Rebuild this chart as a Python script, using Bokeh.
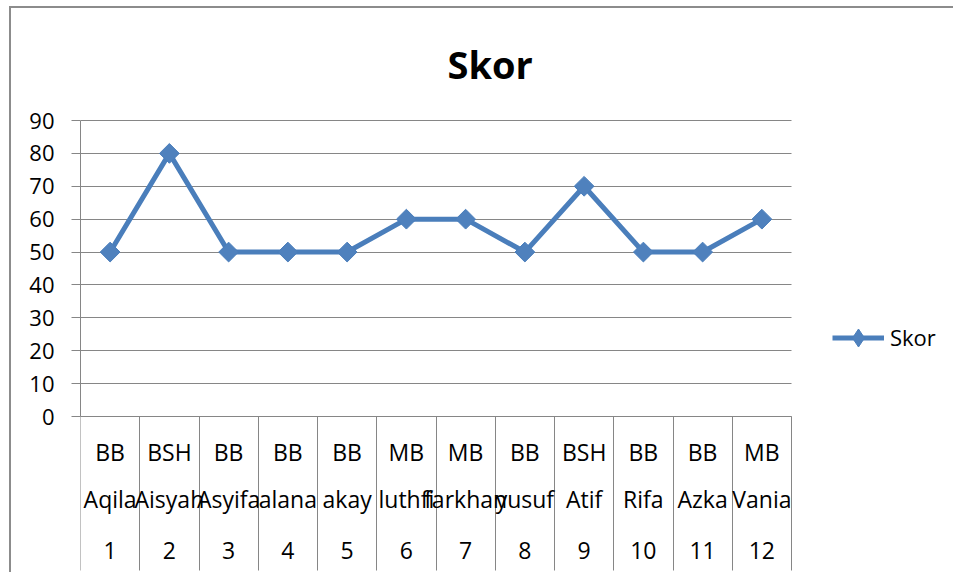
from bokeh.plotting import figure
from bokeh.models import Range1d, LinearAxis, FixedTicker, Legend, LegendItem
from bokeh.embed import file_html
from bokeh.resources import INLINE

# ---- data ----
nums = [1, 2, 3, 4, 5, 6, 7, 8, 9, 10, 11, 12]
names = ["Aqila", "Aisyah", "Asyifa", "alana", "akay", "luthfi",
         "farkhan", "yusuf", "Atif", "Rifa", "Azka", "Vania"]
grades = ["BB", "BSH", "BB", "BB", "BB", "MB", "MB", "BB", "BSH", "BB", "BB", "MB"]
scores = [50, 80, 50, 50, 50, 60, 60, 50, 70, 50, 50, 60]
y_ticks = [0, 10, 20, 30, 40, 50, 60, 70, 80, 90]
series_name = "Skor"

# ---- geometry (pixels, relative to the page) ----
FONT = "Open Sans"
OX, OY = 11, 8                 # content origin (margin + border)
W, H = 944, 566
plot_left, plot_right = 80, 791     # plot area, page px
y90, y0 = 120, 416                  # page px of 90 and 0
frame_top_px = 115
sep_end_px = 570

px_per_y = (y0 - y90) / 90.0
px_per_x = (plot_right - plot_left) / len(nums)
frame_right_px = OX + W
frame_bottom_px = OY + H

x_start = nums[0] - 0.5
x_end = nums[-1] + 0.5 + (frame_right_px - plot_right) / px_per_x
y_top = 90 + (y90 - frame_top_px) / px_per_y
y_bottom = -(frame_bottom_px - y0) / px_per_y

p = figure(width=W, height=H, output_backend="svg", toolbar_location=None,
           x_axis_location=None, y_axis_location="left",
           x_range=Range1d(x_start, x_end),
           y_range=Range1d(y_bottom, y_top),
           min_border_left=plot_left - OX, min_border_right=0,
           min_border_top=frame_top_px - OY, min_border_bottom=0,
           background_fill_color="white", border_fill_color="white")
p.outline_line_color = None
p.xgrid.visible = False

GRID = "#868686"

# y axis
yax = p.yaxis[0]
yax.ticker = FixedTicker(ticks=y_ticks)
yax.bounds = (y_ticks[0], y_ticks[-1])
yax.minor_tick_line_color = None
yax.major_tick_out = 9
yax.major_tick_in = 0
yax.axis_line_color = GRID
yax.major_tick_line_color = GRID
yax.major_label_standoff = 17
yax.major_label_text_font = FONT
yax.major_label_text_font_size = "22px"
yax.major_label_text_color = "black"

p.ygrid.ticker = FixedTicker(ticks=y_ticks)
p.ygrid.bounds = (y_ticks[0], y_ticks[-1])
p.ygrid.cross_bounds = (nums[0] - 0.5, nums[-1] + 0.5)
p.ygrid.grid_line_color = GRID

# category axis: separators + three label rows
bounds_ticks = [n - 0.5 for n in nums] + [nums[-1] + 0.5]
sep = LinearAxis(fixed_location=0, ticker=FixedTicker(ticks=bounds_ticks),
                 bounds=(nums[0] - 0.5, nums[-1] + 0.5),
                 major_tick_out=sep_end_px - y0, major_tick_in=0,
                 axis_line_color=GRID, major_tick_line_color=GRID,
                 major_label_text_color=None, minor_tick_line_color=None)
p.add_layout(sep, "below")

def label_axis(labels, standoff):
    ax = LinearAxis(fixed_location=0, ticker=FixedTicker(ticks=nums),
                    major_label_overrides={n: str(l) for n, l in zip(nums, labels)},
                    major_tick_out=0, major_tick_in=0, major_tick_line_color=None,
                    minor_tick_line_color=None, axis_line_color=None,
                    major_label_standoff=standoff,
                    major_label_text_font=FONT, major_label_text_font_size="23px",
                    major_label_text_color="black")
    p.add_layout(ax, "below")
    return ax

label_axis(grades, 19)
label_axis(names, 66)
label_axis([str(n) for n in nums], 125)

# series
BLUE_LINE = "#4a7ebb"
BLUE_FILL = "#4f81bd"
ln = p.line(nums, scores, line_width=5, line_color=BLUE_LINE, line_join="round")
mk = p.scatter(nums, scores, marker="square", angle=45, angle_units="deg", size=14,
               fill_color=BLUE_FILL, line_color=BLUE_LINE, line_width=1)
# legend-only glyph (Excel draws the legend marker as a tall diamond); no visible point
nan = float("nan")
lg = p.scatter(x=[nan], y=[nan], marker="diamond", fill_color=BLUE_FILL,
               line_color=BLUE_LINE, line_width=1)

legend_left_px, legend_mid_px, item_h = 832, 337, 45
legend = Legend(items=[LegendItem(label=series_name, renderers=[ln, lg])],
                location=(legend_left_px - plot_left,
                          frame_bottom_px - legend_mid_px - item_h / 2),
                glyph_width=52, glyph_height=item_h, label_standoff=6,
                label_text_font=FONT, label_text_font_size="22px",
                label_text_color="black", border_line_color=None,
                background_fill_alpha=0, margin=0, padding=0)
p.add_layout(legend, "center")

# title
p.title.text = series_name
p.title.text_font = FONT
p.title.text_font_size = "38px"
p.title.text_font_style = "bold"
p.title.align = "left"
p.title.offset = 447 - plot_left
p.title.standoff = 52
p.title.text_color = "black"

p.styles = {"margin-left": "9px", "margin-top": "6px",
            "border-left": "2px solid #8c8c8c", "border-top": "2px solid #8c8c8c"}

open("out.html", "w").write(file_html(p, INLINE))
